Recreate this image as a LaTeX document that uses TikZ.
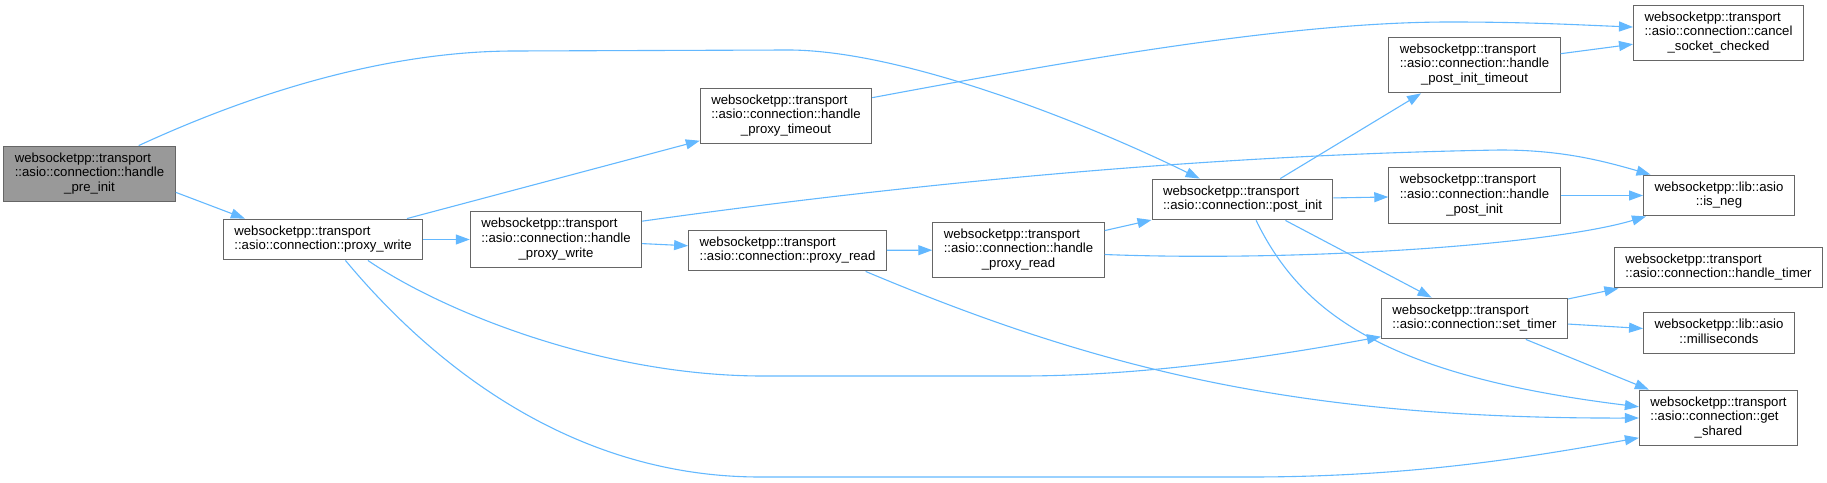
\documentclass[tikz,border=0pt]{standalone}
\usepackage{fontspec}
\setmainfont{Liberation Sans}
\usetikzlibrary{arrows.meta}
\definecolor{edgeblue}{HTML}{63B8FF}
\definecolor{boxline}{HTML}{666666}
\definecolor{curfill}{HTML}{999999}
\newcommand{\fnii}[2]{\begin{tabular}{@{}l@{}}#1\\\multicolumn{1}{@{}c@{}}{#2}\end{tabular}}
\newcommand{\fniii}[3]{\begin{tabular}{@{}l@{}}#1\\#2\\\multicolumn{1}{@{}c@{}}{#3}\end{tabular}}
\tikzset{fn/.style={draw=boxline, fill=white, line width=.02cm, inner xsep=.22cm, inner ysep=.11cm,
    font=\fontsize{7.5}{8.5}\selectfont},
  call/.style={->, draw=edgeblue, line width=.022cm}}
\begin{document}
\begin{tikzpicture}[>={Triangle[length=.28cm,width=.2cm]}, x=.02cm, y=-.02cm]
\useasboundingbox (0,0) rectangle (1827,483);
% functions
\node[fn, fill=curfill] (pre) at (89.5,174) {\fniii{websocketpp::transport}{::asio::connection::handle}{\_pre\_init}};
\node[fn] (pw) at (323,239.5) {\fnii{websocketpp::transport}{::asio::connection::proxy\_write}};
\node[fn] (hpw) at (556,239.5) {\fniii{websocketpp::transport}{::asio::connection::handle}{\_proxy\_write}};
\node[fn] (hpt) at (786,116) {\fniii{websocketpp::transport}{::asio::connection::handle}{\_proxy\_timeout}};
\node[fn] (pr) at (787.5,250.5) {\fnii{websocketpp::transport}{::asio::connection::proxy\_read}};
\node[fn] (hpr) at (1018.5,250) {\fniii{websocketpp::transport}{::asio::connection::handle}{\_proxy\_read}};
\node[fn] (pi) at (1242.5,199.5) {\fnii{websocketpp::transport}{::asio::connection::post\_init}};
\node[fn] (hpit) at (1474.5,65) {\fniii{websocketpp::transport}{::asio::connection::handle}{\_post\_init\_timeout}};
\node[fn] (hpi) at (1474.5,195.5) {\fniii{websocketpp::transport}{::asio::connection::handle}{\_post\_init}};
\node[fn] (st) at (1474.5,318.5) {\fnii{websocketpp::transport}{::asio::connection::set\_timer}};
\node[fn] (csc) at (1718.5,33) {\fniii{websocketpp::transport}{::asio::connection::cancel}{\_socket\_checked}};
\node[fn] (neg) at (1719,195.5) {\fnii{websocketpp::lib::asio}{::is\_neg}};
\node[fn] (ht) at (1718.5,267.5) {\fnii{websocketpp::transport}{::asio::connection::handle\_timer}};
\node[fn] (ms) at (1719,333) {\fnii{websocketpp::lib::asio}{::milliseconds}};
\node[fn] (gs) at (1718.5,418) {\fniii{websocketpp::transport}{::asio::connection::get}{\_shared}};
% calls
\draw[call] (pre.30) .. controls (270,85) and (400,51) .. (515,51) -- (788,50) .. controls (900,50) and (1080,120) .. (pi.154);
\draw[call] (pre.-12) -- (pw.165);
\draw[call] (pw.14.5) -- (hpt.196);
\draw[call] (pw) -- (hpw);
\draw[call] (pw.-25) .. controls (440,310) and (600,376) .. (763,376) -- (1020,376) .. controls (1150,376) and (1280,355) .. (st.191);
\draw[call] (pw.-43) .. controls (420,350) and (560,477) .. (760,477) -- (1250,477) .. controls (1420,477) and (1540,455) .. (gs.194);
\draw[call] (hpw) -- (pr);
\draw[call] (hpw.12) .. controls (900,185) and (1200,155) .. (1500,150) .. controls (1560,150) and (1600,160) .. (neg.163);
\draw[call] (hpt.12) .. controls (1100,55) and (1300,22) .. (1450,22) .. controls (1530,22) and (1580,25) .. (csc.176);
\draw[call] (pr) -- (hpr);
\draw[call] (pr.-15) .. controls (1100,370) and (1300,419) .. (gs.west);
\draw[call] (hpr) -- (pi);
\draw[call] (hpr.-3) .. controls (1300,262) and (1550,245) .. (neg.196);
\draw[call] (pi.29) -- (hpit.208);
\draw[call] (pi) -- (hpi);
\draw[call] (pi.-26) -- (st.154);
\draw[call] (pi.-57) .. controls (1300,310) and (1380,375) .. (gs.172);
\draw[call] (hpi) -- (neg);
\draw[call] (hpit) -- (csc);
\draw[call] (st) -- (ht);
\draw[call] (st) -- (ms);
\draw[call] (st) -- (gs);
\end{tikzpicture}
\end{document}
